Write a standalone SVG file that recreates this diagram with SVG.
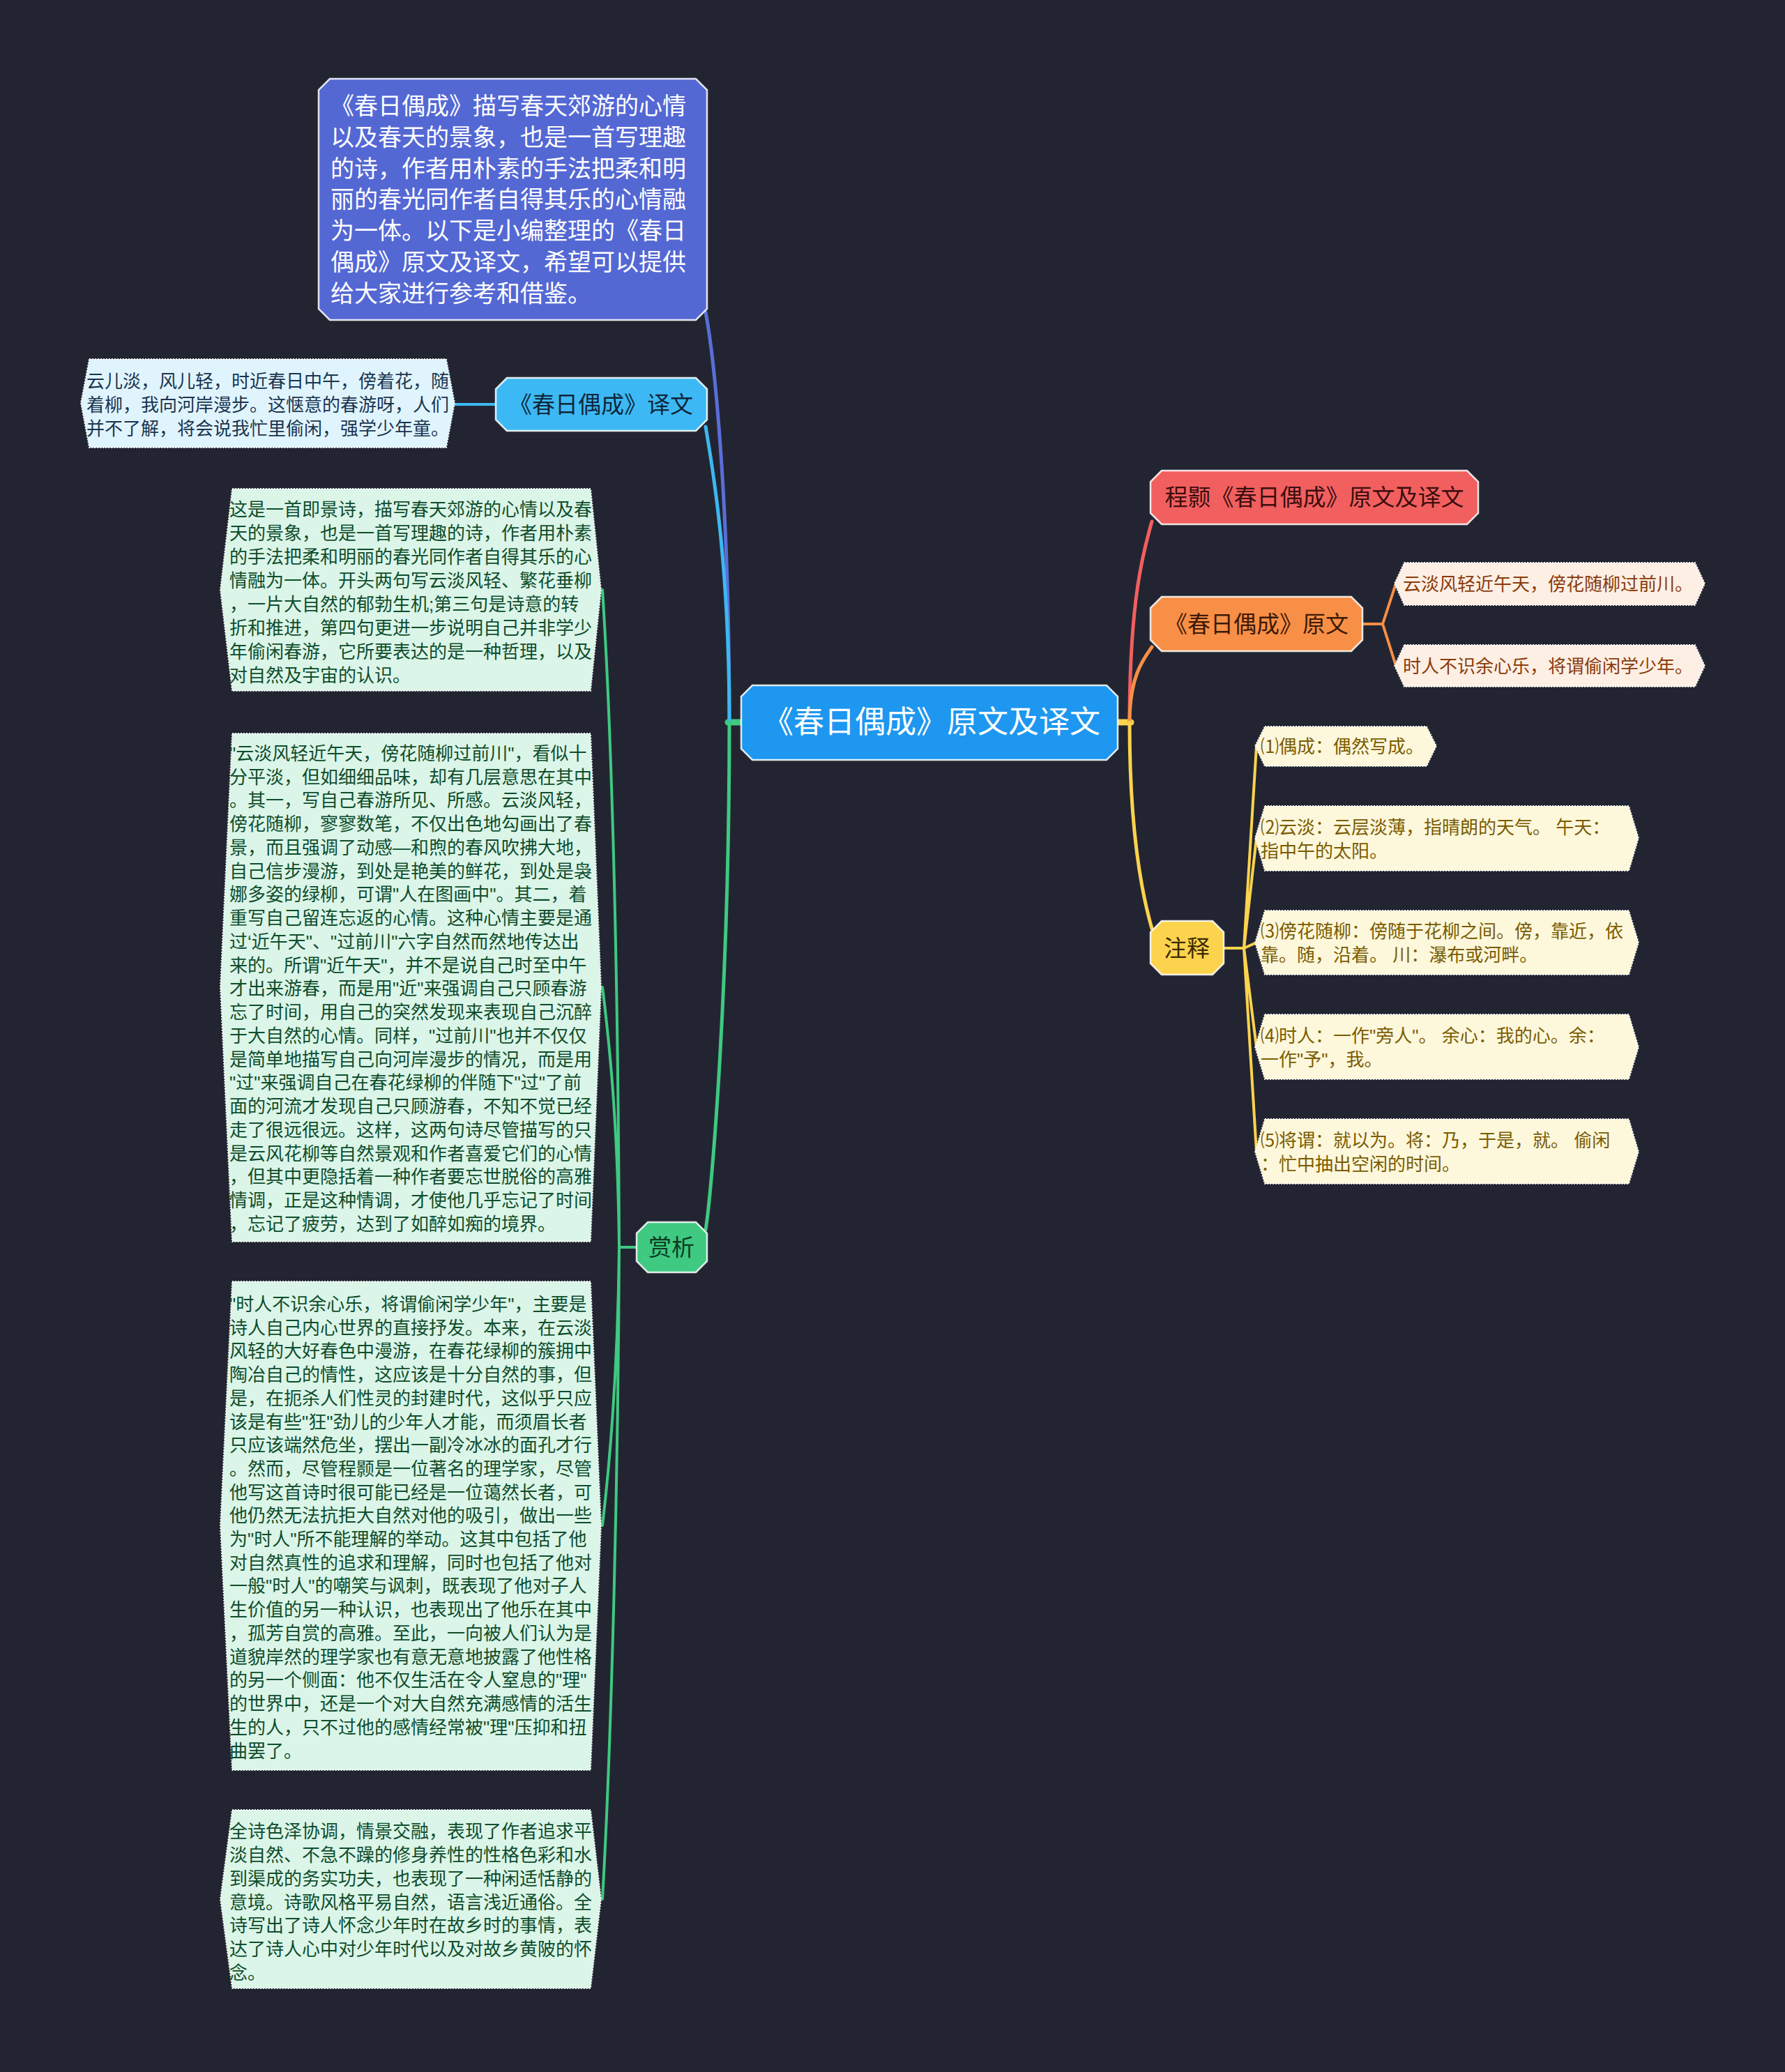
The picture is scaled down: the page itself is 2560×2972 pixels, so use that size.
<svg xmlns="http://www.w3.org/2000/svg" width="2560" height="2972" viewBox="0 0 2560 2972">
<style>
.t{font-family:"Liberation Sans","Noto Sans CJK SC",sans-serif;}
.main{stroke:#ffffff;stroke-opacity:0.85;stroke-width:2.5;}
.leaf{stroke:#ffffff;stroke-width:2;stroke-dasharray:2 2;stroke-opacity:0.9;}
.lt{font-size:26px;}
.c{fill:none;stroke-linecap:round;}
</style>
<rect width="2560" height="2972" fill="#222531"/>

<g id="connectors">
  <path class="c" d="M1063 1036 H1044" stroke="#3fc981" stroke-width="9"/>
  <path class="c" d="M1603 1036 H1622" stroke="#fcd34d" stroke-width="9"/>
  <path class="c" d="M1046 1036 C1046 700 1022 500 1012 448" stroke="#5a6ed8" stroke-width="5"/>
  <path class="c" d="M1046 1036 C1046 800 1020 660 1012 612" stroke="#3cb8f2" stroke-width="5"/>
  <path class="c" d="M1046 1036 C1046 1400 1022 1700 1012 1764" stroke="#3fc981" stroke-width="5"/>
  <path class="c" d="M1620 1036 C1620 860 1640 790 1652 748" stroke="#f25f5f" stroke-width="5"/>
  <path class="c" d="M1620 1036 C1620 970 1640 945 1652 928" stroke="#f88f47" stroke-width="5"/>
  <path class="c" d="M1620 1036 C1620 1200 1640 1290 1652 1332" stroke="#fcd34d" stroke-width="5"/>
  <path class="c" d="M652 580 H711" stroke="#3cb8f2" stroke-width="4"/>
  <path class="c" d="M1954 895 H1983 M1983 895 L2002 837 M1983 895 L2002 955" stroke="#f88f47" stroke-width="4"/>
  <path class="c" d="M1755 1360 H1784 M1784 1360 L1802 1070 M1784 1360 L1802 1202 M1784 1360 L1802 1352 M1784 1360 L1802 1502 M1784 1360 L1802 1652" stroke="#fcd34d" stroke-width="4"/>
  <path class="c" d="M913 1789 H888 M888 1789 C886 1300 874 1000 864 846 M888 1789 C886 1600 872 1480 864 1416 M888 1789 C886 1980 872 2120 864 2188 M888 1789 C886 2200 874 2550 864 2724" stroke="#3fc981" stroke-width="4"/>
</g>

<g id="root">
  <polygon class="main" points="1079,983 1587,983 1603,999 1603,1074 1587,1090 1079,1090 1063,1074 1063,999" fill="#1d97f0" stroke-opacity="0"/>
  <text class="t" x="1336" y="1051" font-size="44" fill="#ffffff" text-anchor="middle">《春日偶成》原文及译文</text>
</g>

<g id="intro">
  <polygon class="main" points="473,113 998,113 1014,129 1014,443 998,459 473,459 457,443 457,129" fill="#5468d4"/>
  <text class="t" x="474" font-size="34" fill="#ffffff">
    <tspan x="474" y="164">《春日偶成》描写春天郊游的心情</tspan>
    <tspan x="474" y="209">以及春天的景象，也是一首写理趣</tspan>
    <tspan x="474" y="254">的诗，作者用朴素的手法把柔和明</tspan>
    <tspan x="474" y="298">丽的春光同作者自得其乐的心情融</tspan>
    <tspan x="474" y="343">为一体。以下是小编整理的《春日</tspan>
    <tspan x="474" y="388">偶成》原文及译文，希望可以提供</tspan>
    <tspan x="474" y="433">给大家进行参考和借鉴。</tspan>
  </text>
</g>

<g id="translation">
  <polygon class="main" points="727,542 998,542 1014,558 1014,602 998,618 727,618 711,602 711,558" fill="#3cb9f4"/>
  <text class="t" x="862" y="592" font-size="33" fill="#10263a" text-anchor="middle">《春日偶成》译文</text>
</g>

<g id="translation-leaf">
  <polygon class="leaf" points="128,515 640,515 652,578 640,642 128,642 116,578" fill="#e0f4fd"/>
  <text class="t lt" fill="#1a3550">
    <tspan x="124" y="556">云儿淡，风儿轻，时近春日中午，傍着花，随</tspan>
    <tspan x="124" y="590">着柳，我向河岸漫步。这惬意的春游呀，人们</tspan>
    <tspan x="124" y="624">并不了解，将会说我忙里偷闲，强学少年童。</tspan>
  </text>
</g>

<g id="chenghao">
  <polygon class="main" points="1666,675 2104,675 2120,691 2120,736 2104,752 1666,752 1650,736 1650,691" fill="#f25f5f"/>
  <text class="t" x="1885" y="725" font-size="33" fill="#3b0e0e" text-anchor="middle">程颢《春日偶成》原文及译文</text>
</g>

<g id="original">
  <polygon class="main" points="1666,856 1938,856 1954,872 1954,918 1938,934 1666,934 1650,918 1650,872" fill="#f88f47"/>
  <text class="t" x="1802" y="907" font-size="33" fill="#3d1a05" text-anchor="middle">《春日偶成》原文</text>
</g>

<g id="original-1">
  <polygon class="leaf" points="2014,807 2431,807 2445,837 2431,868 2014,868 2000,837" fill="#fdefe4"/>
  <text class="t lt" x="2012" y="847" fill="#8a3b0c">云淡风轻近午天，傍花随柳过前川。</text>
</g>
<g id="original-2">
  <polygon class="leaf" points="2014,925 2431,925 2445,955 2431,985 2014,985 2000,955" fill="#fdefe4"/>
  <text class="t lt" x="2012" y="965" fill="#8a3b0c">时人不识余心乐，将谓偷闲学少年。</text>
</g>

<g id="notes">
  <polygon class="main" points="1666,1321 1739,1321 1755,1337 1755,1382 1739,1398 1666,1398 1650,1382 1650,1337" fill="#fcd34d"/>
  <text class="t" x="1702" y="1372" font-size="33" fill="#3a2a00" text-anchor="middle">注释</text>
</g>

<g id="note-1">
  <polygon class="leaf" points="1814,1042 2046,1042 2060,1070 2046,1099 1814,1099 1800,1070" fill="#fdf7dc"/>
  <text class="t lt" x="1808" y="1080" fill="#7a5c00">⑴偶成：偶然写成。</text>
</g>
<g id="note-2">
  <polygon class="leaf" points="1814,1156 2336,1156 2350,1202 2336,1249 1814,1249 1800,1202" fill="#fdf7dc"/>
  <text class="t lt" fill="#7a5c00"><tspan x="1808" y="1196">⑵云淡：云层淡薄，指晴朗的天气。 午天：</tspan><tspan x="1808" y="1230">指中午的太阳。</tspan></text>
</g>
<g id="note-3">
  <polygon class="leaf" points="1814,1306 2336,1306 2350,1352 2336,1398 1814,1398 1800,1352" fill="#fdf7dc"/>
  <text class="t lt" fill="#7a5c00"><tspan x="1808" y="1345">⑶傍花随柳：傍随于花柳之间。傍，靠近，依</tspan><tspan x="1808" y="1379">靠。随，沿着。 川：瀑布或河畔。</tspan></text>
</g>
<g id="note-4">
  <polygon class="leaf" points="1814,1455 2336,1455 2350,1502 2336,1548 1814,1548 1800,1502" fill="#fdf7dc"/>
  <text class="t lt" fill="#7a5c00"><tspan x="1808" y="1495">⑷时人：一作"旁人"。 余心：我的心。余：</tspan><tspan x="1808" y="1529">一作"予"，我。</tspan></text>
</g>
<g id="note-5">
  <polygon class="leaf" points="1814,1605 2336,1605 2350,1652 2336,1698 1814,1698 1800,1652" fill="#fdf7dc"/>
  <text class="t lt" fill="#7a5c00"><tspan x="1808" y="1645">⑸将谓：就以为。将：乃，于是，就。 偷闲</tspan><tspan x="1808" y="1679">：忙中抽出空闲的时间。</tspan></text>
</g>

<g id="appreciation">
  <polygon class="main" points="929,1753 998,1753 1014,1769 1014,1809 998,1825 929,1825 913,1809 913,1769" fill="#3fc981"/>
  <text class="t" x="963" y="1801" font-size="33" fill="#0d3b22" text-anchor="middle">赏析</text>
</g>

<g id="appr-1">
  <polygon class="leaf" points="333,701 847,701 862,846 847,991 333,991 316,846" fill="#dbf5e8"/>
  <text class="t lt" fill="#0e4d2c">
    <tspan x="329" y="740">这是一首即景诗，描写春天郊游的心情以及春</tspan>
    <tspan x="329" y="774">天的景象，也是一首写理趣的诗，作者用朴素</tspan>
    <tspan x="329" y="808">的手法把柔和明丽的春光同作者自得其乐的心</tspan>
    <tspan x="329" y="842">情融为一体。开头两句写云淡风轻、繁花垂柳</tspan>
    <tspan x="329" y="876">，一片大自然的郁勃生机;第三句是诗意的转</tspan>
    <tspan x="329" y="910">折和推进，第四句更进一步说明自己并非学少</tspan>
    <tspan x="329" y="944">年偷闲春游，它所要表达的是一种哲理，以及</tspan>
    <tspan x="329" y="978">对自然及宇宙的认识。</tspan>
  </text>
</g>

<g id="appr-2">
  <polygon class="leaf" points="333,1052 847,1052 862,1416 847,1781 333,1781 316,1416" fill="#dbf5e8"/>
  <text class="t lt" fill="#0e4d2c">
    <tspan x="329" y="1090">"云淡风轻近午天，傍花随柳过前川"，看似十</tspan>
    <tspan x="329" y="1124">分平淡，但如细细品味，却有几层意思在其中</tspan>
    <tspan x="329" y="1157">。其一，写自己春游所见、所感。云淡风轻，</tspan>
    <tspan x="329" y="1191">傍花随柳，寥寥数笔，不仅出色地勾画出了春</tspan>
    <tspan x="329" y="1225">景，而且强调了动感—和煦的春风吹拂大地，</tspan>
    <tspan x="329" y="1259">自己信步漫游，到处是艳美的鲜花，到处是袅</tspan>
    <tspan x="329" y="1292">娜多姿的绿柳，可谓"人在图画中"。其二，着</tspan>
    <tspan x="329" y="1326">重写自己留连忘返的心情。这种心情主要是通</tspan>
    <tspan x="329" y="1360">过‘近午天"、"过前川"六字自然而然地传达出</tspan>
    <tspan x="329" y="1394">来的。所谓"近午天"，并不是说自己时至中午</tspan>
    <tspan x="329" y="1427">才出来游春，而是用"近"来强调自己只顾春游</tspan>
    <tspan x="329" y="1461">忘了时间，用自己的突然发现来表现自己沉醉</tspan>
    <tspan x="329" y="1495">于大自然的心情。同样，"过前川"也并不仅仅</tspan>
    <tspan x="329" y="1529">是简单地描写自己向河岸漫步的情况，而是用</tspan>
    <tspan x="329" y="1562">"过"来强调自己在春花绿柳的伴随下"过"了前</tspan>
    <tspan x="329" y="1596">面的河流才发现自己只顾游春，不知不觉已经</tspan>
    <tspan x="329" y="1630">走了很远很远。这样，这两句诗尽管描写的只</tspan>
    <tspan x="329" y="1664">是云风花柳等自然景观和作者喜爱它们的心情</tspan>
    <tspan x="329" y="1697">，但其中更隐括着一种作者要忘世脱俗的高雅</tspan>
    <tspan x="329" y="1731">情调，正是这种情调，才使他几乎忘记了时间</tspan>
    <tspan x="329" y="1765">，忘记了疲劳，达到了如醉如痴的境界。</tspan>
  </text>
</g>

<g id="appr-3">
  <polygon class="leaf" points="333,1838 847,1838 862,2188 847,2539 333,2539 316,2188" fill="#dbf5e8"/>
  <text class="t lt" fill="#0e4d2c">
    <tspan x="329" y="1880">"时人不识余心乐，将谓偷闲学少年"，主要是</tspan>
    <tspan x="329" y="1914">诗人自己内心世界的直接抒发。本来，在云淡</tspan>
    <tspan x="329" y="1947">风轻的大好春色中漫游，在春花绿柳的簇拥中</tspan>
    <tspan x="329" y="1981">陶冶自己的情性，这应该是十分自然的事，但</tspan>
    <tspan x="329" y="2015">是，在扼杀人们性灵的封建时代，这似乎只应</tspan>
    <tspan x="329" y="2049">该是有些"狂"劲儿的少年人才能，而须眉长者</tspan>
    <tspan x="329" y="2082">只应该端然危坐，摆出一副冷冰冰的面孔才行</tspan>
    <tspan x="329" y="2116">。然而，尽管程颢是一位著名的理学家，尽管</tspan>
    <tspan x="329" y="2150">他写这首诗时很可能已经是一位蔼然长者，可</tspan>
    <tspan x="329" y="2183">他仍然无法抗拒大自然对他的吸引，做出一些</tspan>
    <tspan x="329" y="2217">为"时人"所不能理解的举动。这其中包括了他</tspan>
    <tspan x="329" y="2251">对自然真性的追求和理解，同时也包括了他对</tspan>
    <tspan x="329" y="2284">一般"时人"的嘲笑与讽刺，既表现了他对子人</tspan>
    <tspan x="329" y="2318">生价值的另一种认识，也表现出了他乐在其中</tspan>
    <tspan x="329" y="2352">，孤芳自赏的高雅。至此，一向被人们认为是</tspan>
    <tspan x="329" y="2386">道貌岸然的理学家也有意无意地披露了他性格</tspan>
    <tspan x="329" y="2419">的另一个侧面：他不仅生活在令人窒息的"理"</tspan>
    <tspan x="329" y="2453">的世界中，还是一个对大自然充满感情的活生</tspan>
    <tspan x="329" y="2487">生的人，只不过他的感情经常被"理"压抑和扭</tspan>
    <tspan x="329" y="2521">曲罢了。</tspan>
  </text>
</g>

<g id="appr-4">
  <polygon class="leaf" points="333,2596 847,2596 862,2724 847,2852 333,2852 316,2724" fill="#dbf5e8"/>
  <text class="t lt" fill="#0e4d2c">
    <tspan x="329" y="2636">全诗色泽协调，情景交融，表现了作者追求平</tspan>
    <tspan x="329" y="2670">淡自然、不急不躁的修身养性的性格色彩和水</tspan>
    <tspan x="329" y="2704">到渠成的务实功夫，也表现了一种闲适恬静的</tspan>
    <tspan x="329" y="2738">意境。诗歌风格平易自然，语言浅近通俗。全</tspan>
    <tspan x="329" y="2771">诗写出了诗人怀念少年时在故乡时的事情，表</tspan>
    <tspan x="329" y="2805">达了诗人心中对少年时代以及对故乡黄陂的怀</tspan>
    <tspan x="329" y="2839">念。</tspan>
  </text>
</g>
</svg>
